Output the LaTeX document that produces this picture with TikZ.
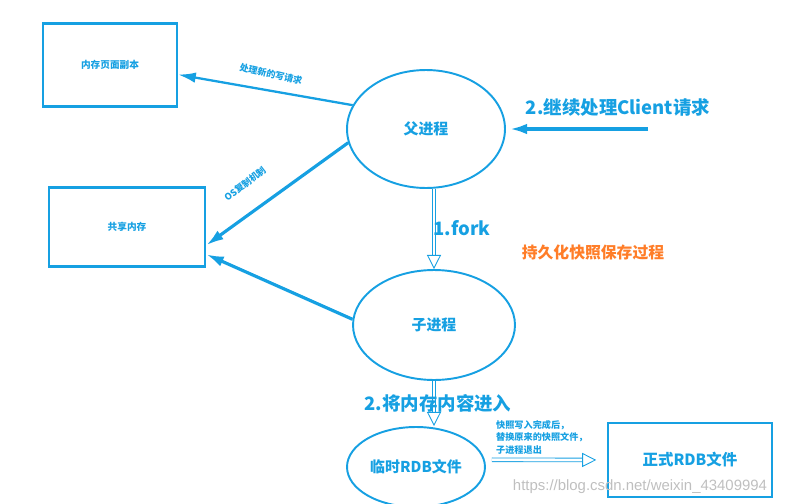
\documentclass[tikz,border=0pt]{standalone}
\usepackage{fontspec}
\setmainfont{Noto Sans CJK SC}
\newfontfamily\wmfont{Liberation Sans}
\usetikzlibrary{shapes,arrows.meta}

\definecolor{skyblue}{RGB}{22,160,226}
\definecolor{tangerine}{RGB}{255,125,40}

\begin{document}
\begin{tikzpicture}[x=0.02cm,y=-0.02cm]
    \tikzstyle{box} = [draw=skyblue, line width=1.4pt, rectangle, inner sep=0pt, text=skyblue, font=\bfseries\fontsize{5.5}{6}\selectfont]
    \tikzstyle{proc} = [draw=skyblue, line width=1.1pt, ellipse, inner sep=0pt, text=skyblue, font=\bfseries\fontsize{8.5}{10}\selectfont]
    \tikzstyle{ann} = [draw=none, fill=none, text=skyblue, font=\bfseries\fontsize{5.2}{6}\selectfont]
    \tikzstyle{big} = [draw=none, fill=none, text=skyblue, font=\bfseries\fontsize{10.5}{12}\selectfont]
    \tikzstyle{link} = [draw=skyblue, line width=1.6pt, -{Latex[length=10pt,width=6pt]}]
    \tikzstyle{hollow} = [draw=skyblue, line width=0.5pt, double=white, double distance=1.6pt, -{Triangle[open,length=8pt,width=8pt]}]

    \useasboundingbox (0,0) rectangle (785,504);

    \node[box, minimum width=2.68cm, minimum height=1.66cm] (copy) at (110,65) {内存页面副本};
    \node[box, minimum width=3.12cm, minimum height=1.58cm] (shared) at (127,227) {共享内存};
    \node[proc, minimum width=3.16cm, minimum height=2.36cm] (parent) at (426,129) {父进程};
    \node[proc, minimum width=3.24cm, minimum height=2.2cm] (child) at (434,325) {子进程};
    \node[proc, minimum width=2.76cm, minimum height=1.6cm] (tmp) at (416,467) {临时RDB文件};
    \node[box, minimum width=3.28cm, minimum height=1.48cm, font=\bfseries\fontsize{8.8}{10}\selectfont] (final) at (690,460) {正式RDB文件};
    \coordinate (client) at (648,129);

    \draw[link, line width=1.3pt] (parent.162) -- (copy.-8);
    \draw[link, line width=1.8pt] (parent.190) -- (shared.-13);
    \draw[link, line width=1.8pt] (child.176) -- (shared.-19);
    \draw[link, line width=2.3pt, shorten >=2pt] (client) -- (parent.east);
    \draw[hollow] (child.north |- parent.south) -- (child.north);
    \draw[hollow] (child.south) -- (child.south |- tmp.north);
    \draw[hollow, shorten <=4pt, shorten >=6pt] (tmp.6) -- (final.west);

    \node[ann, rotate=-13] (writelab) at (271,74) {处理新的写请求};
    \node[ann, rotate=38] (oslab) at (245,184) {OS复制机制};
    \node[big] (clientlab) at (618,107) {2.继续处理Client请求};
    \node[big] (forklab) at (462,228) {1.fork};
    \node[big, text=tangerine, font=\bfseries\fontsize{9}{10}\selectfont] (title) at (593,252) {持久化快照保存过程};
    \node[big] (dumplab) at (438,403) {2.将内存内容进入};
    \node[ann, anchor=north west, align=left, font=\bfseries\fontsize{5.2}{7.2}\selectfont] (donelab) at (490,414) {快照写入完成后，\\替换原来的快照文件，\\子进程退出};
    \node[text=black!25, font=\wmfont\fontsize{8.5}{10}\selectfont] (mark) at (640,487) {https://blog.csdn.net/weixin\_43409994};
\end{tikzpicture}
\end{document}
